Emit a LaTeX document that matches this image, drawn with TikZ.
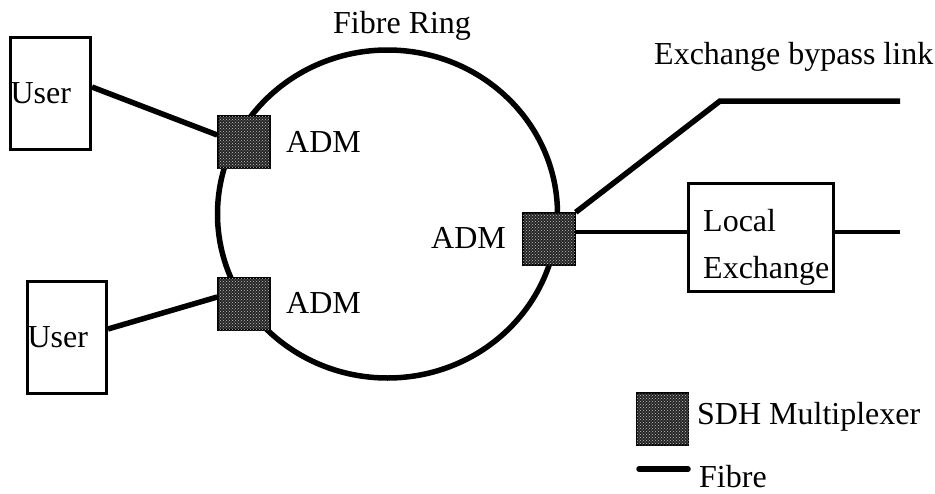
\documentclass[tikz,border=0pt]{standalone}
\usepackage{fontspec}
\setmainfont{Liberation Serif}
\usetikzlibrary{patterns}
\pgfdeclarelayer{background}
\pgfsetlayers{background,main}
\begin{document}
\begin{tikzpicture}[x=1pt,y=-1pt,
    every node/.style={font=\fontsize{32}{38}\selectfont},
    adm/.style={draw,line width=1.5pt,fill=black!85,minimum size=52pt,inner sep=0pt,
      postaction={pattern=crosshatch dots,pattern color=white!75!black}},
    unitbox/.style={draw,line width=3pt,inner sep=0pt,align=left},
    fibre/.style={line width=5.5pt},
    thinfibre/.style={line width=3.2pt},
    txt/.style={anchor=base west,inner sep=0pt}]
  \useasboundingbox (0,0) rectangle (935,493);
  \node[unitbox,text width=80pt,minimum height=112pt] (usertop) at (50.5,93.5) {User};
  \node[unitbox,text width=79pt,minimum height=112pt] (userbot) at (67,337.5) {User};
  \node[unitbox,minimum width=145pt,minimum height=108pt] (localex) at (761,237.5) {};
  \node[txt] (loctxt) at (703,231) {Local};
  \node[txt] (exctxt) at (703,278) {Exchange};
  \node[adm] (admtl) at (244,142) {};
  \node[adm] (admbl) at (244,304) {};
  \node[adm] (admr) at (549,239) {};
  \coordinate (bypassknee) at (720,101);
  \coordinate (bypassend) at (900,101);
  \coordinate (exout) at (900,232);
  \begin{pgfonlayer}{background}
    \draw[fibre] (387.5,214) ellipse [x radius=170,y radius=164];
    \draw[fibre] ([yshift=6.5pt]usertop.east) -- ([yshift=7pt]admtl.west);
    \draw[fibre] ([yshift=8.5pt]userbot.east) -- ([yshift=7pt]admbl.west);
    \draw[fibre] (admr.north east) -- (bypassknee) -- (bypassend);
    \draw[thinfibre] ([yshift=7pt]admr.east) -- ([yshift=5.5pt]localex.west);
    \draw[thinfibre] ([yshift=5.5pt]localex.east) -- (exout);
  \end{pgfonlayer}
  \node[txt] (admtltxt) at (286,152) {ADM};
  \node[txt] (admbltxt) at (286,313) {ADM};
  \node[txt] (admrtxt) at (431,248) {ADM};
  \node[txt] (ringtxt) at (333,33) {Fibre Ring};
  \node[txt] (bypasstxt) at (654,64) {Exchange bypass link};
  % legend
  \node[adm] (legmux) at (662.5,419) {};
  \node[txt] (legmuxtxt) at (697,424) {SDH Multiplexer};
  \coordinate (legfibrea) at (639,469);
  \coordinate (legfibreb) at (688,469);
  \draw[fibre,line cap=round] (legfibrea) -- (legfibreb);
  \node[txt] (legfibretxt) at (699,487) {Fibre};
\end{tikzpicture}
\end{document}
